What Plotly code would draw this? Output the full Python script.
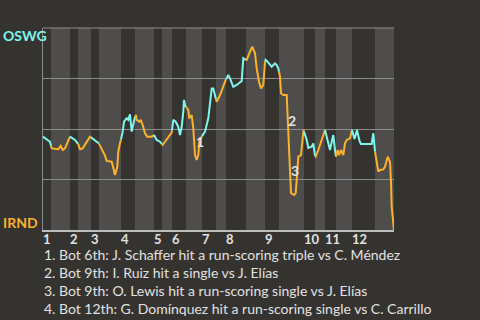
import plotly.graph_objects as go
import numpy as np

# elapsed play position and OSWG win probability (%)
play = [0, 7, 8.7, 15.3, 17.7, 19.7, 22, 27, 32, 35.3, 37, 39.7, 47, 50.3, 55.3, 58.7, 62, 63.7, 68.7, 70.3,
        72, 74.3, 75.3, 77, 78.7, 79.7, 81, 83.7, 85.3, 87, 88.7, 91, 93, 93.7, 96.3, 97.7, 99.7, 102, 104.3, 108.7,
        111, 113.7, 117, 119.7, 122, 125.3, 128.7, 130.3, 132.7, 135.3, 137, 138.7, 140.3, 141, 142, 143.7, 145.3, 146.3, 148.7, 150.3,
        152, 153.7, 155.3, 156.3, 157.7, 159, 162, 165.3, 167, 168.7, 170.3, 172.7, 173.7, 177, 180.3, 182.7, 185.3, 187, 190.3, 193.7,
        197, 198.7, 200.3, 202, 203.7, 207, 209.3, 212, 213.7, 216, 218, 220.3, 222, 222.7, 226, 228.7, 232, 233.7, 235.3, 237,
        238, 240.3, 243.7, 244.3, 245.3, 246, 247, 248, 251.3, 252.7, 253.7, 255.3, 258, 259.3, 260.5, 263.7, 265.3, 268.7, 270.3, 271.3,
        272.7, 275.3, 278.7, 282, 285.3, 287, 288.7, 290.3, 292, 293, 294.7, 296, 298, 300.3, 302, 303.7, 307, 309, 311.5, 314,
        316.5, 318, 328.7, 330.3, 332, 333.7, 335.3, 337, 340.3, 342, 344.7, 346, 347, 348, 348.7, 351]
wp = [46.2, 43.7, 40.4, 40.0, 41.6, 39.6, 40.4, 46.2, 44.6, 42.4, 40.0, 40.4, 46.2, 45.0, 43.4, 40.4, 36.8, 34.2, 33.8, 30.8,
      27.2, 31.3, 38.8, 42.9, 46.2, 48.7, 53.6, 55.3, 54.5, 57.3, 48.7, 55.3, 56.9, 54.5, 53.6, 54.5, 52.0, 47.9, 46.2, 46.2,
      47.0, 44.6, 43.7, 42.1, 43.7, 46.2, 48.2, 54.5, 53.6, 51.1, 47.0, 51.1, 58.6, 64.4, 61.9, 60.2, 59.4, 55.3, 56.9, 50.3,
      37.1, 34.7, 37.1, 43.7, 45.4, 46.5, 48.7, 55.3, 63.5, 70.1, 70.1, 65.2, 63.5, 66.8, 71.8, 74.3, 76.7, 75.1, 70.9, 71.8,
      73.4, 73.8, 85.0, 84.2, 84.2, 88.3, 90.7, 87.5, 80.0, 73.4, 70.1, 71.8, 83.3, 84.2, 82.5, 80.8, 82.5, 81.7, 80.0, 75.9,
      67.7, 66.8, 66.8, 60.2, 52.0, 39.6, 28.9, 18.2, 17.3, 18.2, 24.8, 36.3, 37.1, 44.6, 49.5, 44.6, 40.6, 41.2, 42.9, 37.1,
      36.3, 39.6, 44.6, 49.5, 43.7, 39.6, 43.7, 47.0, 39.6, 36.3, 39.6, 37.1, 39.6, 37.1, 42.9, 44.6, 45.4, 49.5, 45.0, 49.5,
      44.1, 42.6, 42.6, 47.9, 38.8, 33.8, 28.9, 29.7, 30.0, 31.3, 36.3, 34.7, 33.8, 23.9, 11.5, 0.0]

half_starts = [0, 8, 27, 35, 48, 56, 78, 92, 111, 119, 129, 143, 159, 173, 183, 203, 222, 236, 261, 272, 282, 293, 309, 332, 351]
inning_labels = ["1", "2", "3", "4", "5", "6", "7", "8", "9", "10", "11", "12"]

note_x = [157, 249, 252, 354]
note_y = [43.6, 54.0, 29.7, 13.4]
note_labels = ["1", "2", "3", "4"]
footnotes = [
    "1. Bot 6th: J. Schaffer hit a run-scoring triple vs C. Méndez",
    "2. Bot 9th: I. Ruiz hit a single vs J. Elías",
    "3. Bot 9th: O. Lewis hit a run-scoring single vs J. Elías",
    "4. Bot 12th: G. Domínquez hit a run-scoring single vs C. Carrillo",
]
away_team, home_team = "OSWG", "IRND"

BG = "#35332f"
LIGHT = "#4e4d4b"
CYAN = "#7ff7ee"
ORANGE = "#fcb22d"
TXT = "#e2e2e2"
GRID = "#8c8c8c"
FONT = "Lato"

px_ = np.array(play, dtype=float)
wp_ = np.array(wp, dtype=float)

fig = go.Figure()
shapes = []
for i in range(len(half_starts) - 1):
    a, b = half_starts[i], half_starts[i + 1]
    if i % 2 == 1:
        shapes.append(dict(type="rect", xref="x", yref="paper", x0=a, x1=b, y0=0, y1=1,
                           fillcolor=LIGHT, line=dict(width=0), layer="below"))
    inner = [p for p in play if a < p < b]
    xs = [a] + inner + [b]
    ys = list(np.interp(xs, px_, wp_))
    fig.add_trace(go.Scatter(x=xs, y=ys, mode="lines",
                             line=dict(color=CYAN if i % 2 == 0 else ORANGE, width=2),
                             hoverinfo="skip", showlegend=False))
shapes.append(dict(type="line", xref="paper", yref="paper", x0=0, x1=1, y0=1, y1=1,
                   line=dict(color=GRID, width=1), layer="above"))

annotations = []
for k, lab in enumerate(inning_labels):
    annotations.append(dict(x=half_starts[2 * k], y=0, xref="x", yref="paper", text="<b>%s</b>" % lab,
                            showarrow=False, xanchor="left", yanchor="middle", yshift=-9, xshift=-2,
                            font=dict(family=FONT, size=13, color=TXT)))
for x, y, t in zip(note_x, note_y, note_labels):
    annotations.append(dict(x=x, y=y, xref="x", yref="y", text="<b>%s</b>" % t, showarrow=False,
                            font=dict(family=FONT, size=14, color=TXT)))
for k, t in enumerate(footnotes):
    annotations.append(dict(x=0, y=0, xref="paper", yref="paper", text=t, showarrow=False,
                            xanchor="left", yanchor="middle", yshift=-(24 + 18 * k), xshift=-1,
                            font=dict(family=FONT, size=14, color=TXT)))
annotations.append(dict(x=0, y=1, xref="paper", yref="paper", text="<b>%s</b>" % away_team, showarrow=False,
                        xanchor="left", yanchor="middle", xshift=-42, yshift=-7,
                        font=dict(family=FONT, size=14, color=CYAN)))
annotations.append(dict(x=0, y=0, xref="paper", yref="paper", text="<b>%s</b>" % home_team, showarrow=False,
                        xanchor="left", yanchor="middle", xshift=-42, yshift=8,
                        font=dict(family=FONT, size=14, color=ORANGE)))

fig.update_layout(
    width=480, height=320,
    margin=dict(l=43, r=86, t=28, b=90),
    paper_bgcolor=BG, plot_bgcolor=BG,
    shapes=shapes, annotations=annotations,
    xaxis=dict(range=[0, 351], showgrid=False, zeroline=False, showticklabels=False, ticks="",
               showline=True, linecolor="#bdbdbd", linewidth=2, fixedrange=True),
    yaxis=dict(range=[0, 100], tickvals=[25, 50, 75, 100], showgrid=True, gridcolor=GRID, gridwidth=1,
               zeroline=False, showticklabels=False, ticks="", showline=True, linecolor=GRID,
               linewidth=1, fixedrange=True),
)
fig.write_html("out.html")
